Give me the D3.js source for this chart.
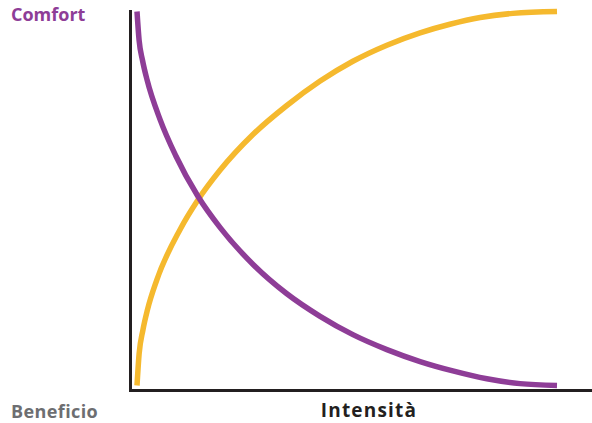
<!DOCTYPE html>
<html>
<head>
<meta charset="utf-8">
<script src="https://cdn.jsdelivr.net/npm/d3@7"></script>
<style>
  body { margin: 0; background: #fff; }
  text { font-family: "Open Sans", Lato, sans-serif; font-weight: bold; }
</style>
</head>
<body>
<svg width="592" height="423"></svg>
<script>
// intensity positions (0-100)
var comfortX = [0, 0.5, 1.3, 2.4, 5.5, 9.2, 14.5, 19.8, 27.7, 35.6, 43.6, 51.4, 59.5, 67.4, 75.2, 83.3, 91.2, 100];
var comfortY = [100, 92.3, 87.0, 81.7, 71.1, 61.5, 50.6, 42.2, 32.3, 24.6, 18.5, 13.6, 9.6, 6.4, 3.9, 1.8, 0.5, 0];

var beneficioX = [0, 0.5, 1.4, 2.5, 4.7, 10.2, 14.5, 19.8, 27.6, 35.6, 43.6, 51.4, 59.5, 67.4, 74.5, 81.7, 89.5, 100];
var beneficioY = [0, 8.4, 14.8, 20.3, 28.2, 41.6, 49.6, 57.6, 67.1, 74.8, 81.4, 86.7, 91.0, 94.3, 96.6, 98.4, 99.5, 100];

var labels = {comfort: "Comfort", beneficio: "Beneficio", x: "Intensità"};

var svg = d3.select("svg");

var x = d3.scaleLinear().domain([0, 100]).range([137, 557]);
var y = d3.scaleLinear().domain([0, 100]).range([385.5, 11.5]);

var line = d3.line()
    .x(d => x(d[0]))
    .y(d => y(d[1]))
    .curve(d3.curveMonotoneX);

// axes (no ticks)
svg.append("line")
    .attr("x1", 130.5).attr("x2", 130.5)
    .attr("y1", 10).attr("y2", 392)
    .attr("stroke", "#231f20").attr("stroke-width", 3);
svg.append("line")
    .attr("x1", 129).attr("x2", 592)
    .attr("y1", 390.5).attr("y2", 390.5)
    .attr("stroke", "#231f20").attr("stroke-width", 3);

svg.append("path")
    .datum(d3.zip(beneficioX, beneficioY))
    .attr("fill", "none")
    .attr("stroke", "#f5b92e")
    .attr("stroke-width", 5.5)
    .attr("d", line);

svg.append("path")
    .datum(d3.zip(comfortX, comfortY))
    .attr("fill", "none")
    .attr("stroke", "#8e3d97")
    .attr("stroke-width", 5.5)
    .attr("d", line);

// labels
svg.append("text")
    .attr("x", 11).attr("y", 21)
    .attr("font-size", 18)
    .attr("fill", "#8e3d97")
    .text(labels.comfort);

svg.append("text")
    .attr("x", 11).attr("y", 418)
    .attr("font-size", 18)
    .attr("letter-spacing", 0.4)
    .attr("fill", "#6d6e71")
    .text(labels.beneficio);

svg.append("text")
    .attr("x", 369).attr("y", 417)
    .attr("text-anchor", "middle")
    .attr("font-size", 19)
    .attr("letter-spacing", 1.2)
    .attr("fill", "#231f20")
    .text(labels.x);
</script>
</body>
</html>
